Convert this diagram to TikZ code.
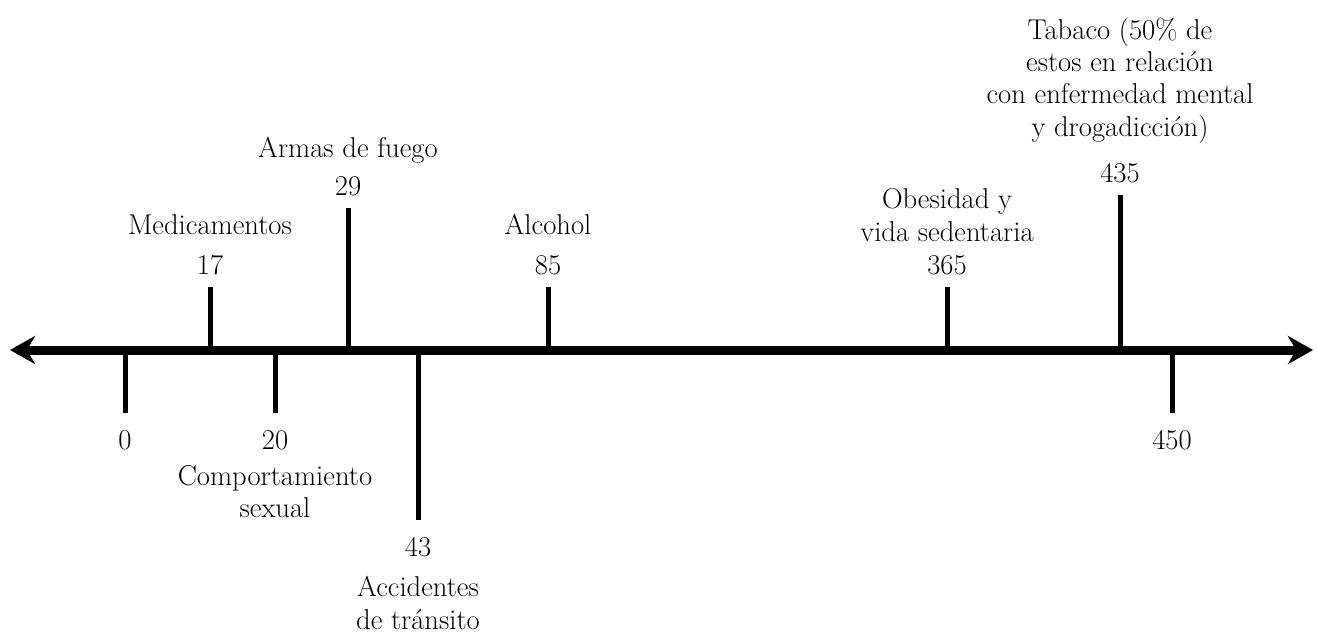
\documentclass[tikz,border=0pt]{standalone}
\usepackage{tikz}
\usetikzlibrary{arrows.meta}
\tikzset{
	axisline/.style={black, line width=0.18cm, {Stealth[length=0.5cm, width=0.56cm, inset=0.16cm]}-{Stealth[length=0.5cm, width=0.56cm, inset=0.16cm]}},
	tickline/.style={black, line width=0.1cm},
	numlbl/.style={inner sep=0pt, font=\fontsize{16.3}{18.4}\selectfont},
	txtlbl/.style={inner sep=0pt, align=center, font=\fontsize{16.3}{18.4}\selectfont}
}
\begin{document}
\begin{tikzpicture}[x=0.02cm, y=-0.02cm]
	\useasboundingbox (0,0) rectangle (1317,633);
	\coordinate (L) at (10,350);
	\coordinate (R) at (1313,350);
	\draw[axisline](L)--(R);
	\foreach \x/\e/\v/\g/\txt in {210/287/17/0.8/{Medicamentos}, 348/208/29/0.76/{Armas de fuego}, 548/287/85/0.8/{Alcohol}, 947/287/365/0.66/{Obesidad y\\vida sedentaria}, 1120/195/435/0.92/{Tabaco (50\% de\\estos en relación\\con enfermedad mental\\y drogadicción)}}{
		\coordinate (a\v) at (\x,350);
		\coordinate (e\v) at (\x,\e);
		\draw[tickline](a\v)--(e\v);
		\node[numlbl, anchor=base] (n\v) at ([yshift=0.26cm]e\v) {\v};
		\node[txtlbl, anchor=base] (l\v) at ([yshift=\g cm]n\v.base) {\txt};
	}
	\foreach \x/\e/\v/\g/\txt in {125/413/0/0.3/{}, 275/413/20/0.3/{Comportamiento\\sexual}, 418/520/43/0.38/{Accidentes\\de tránsito}, 1172/413/450/0.3/{}}{
		\coordinate (a\v) at (\x,350);
		\coordinate (e\v) at (\x,\e);
		\draw[tickline](a\v)--(e\v);
		\node[numlbl, anchor=north] (n\v) at ([yshift=-0.34cm]e\v) {\v};
		\node[txtlbl, anchor=north] (l\v) at ([yshift=-\g cm]n\v.south) {\txt};
	}
\end{tikzpicture}
\end{document}
